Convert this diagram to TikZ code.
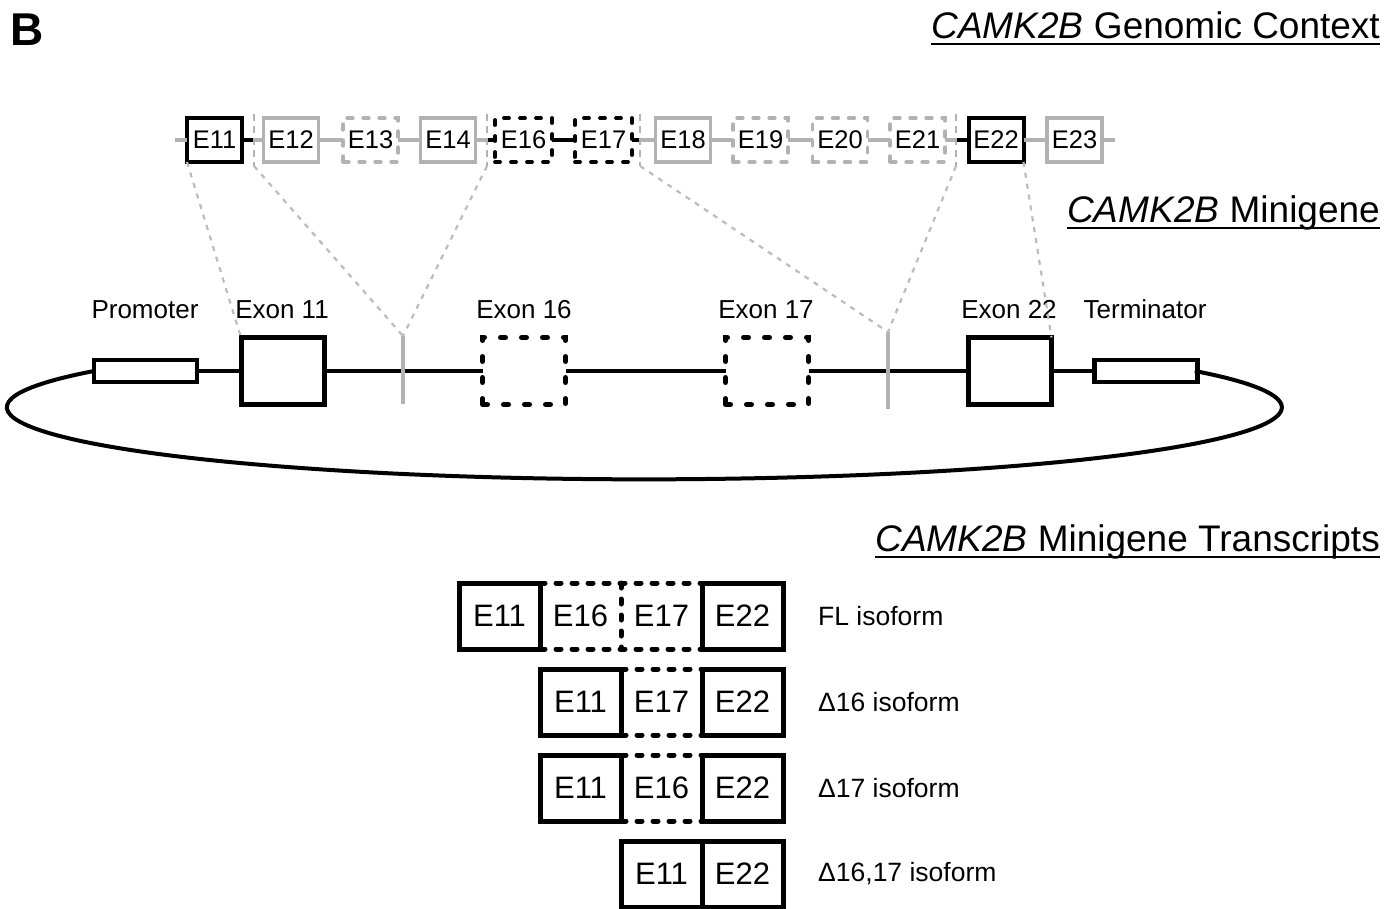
\documentclass[tikz,border=0pt]{standalone}
\usepackage{fontspec}
\setmainfont{Liberation Sans}
\usetikzlibrary{positioning}
\definecolor{exgray}{RGB}{178,178,178}
\definecolor{dotgray}{RGB}{188,188,188}
\tikzset{
  ex/.style={draw, fill=white, inner sep=0pt, outer sep=0pt, minimum width=55pt, minimum height=44pt, line width=3.3pt, font=\fontsize{25.5}{30}\selectfont},
  kbox/.style={ex, line width=4pt},
  gbox/.style={ex, draw=exgray},
  gdash/.style={gbox, dash pattern=on 6pt off 10pt, line cap=round},
  kdash/.style={ex, line width=3.8pt, minimum width=57pt, dash pattern=on 5pt off 11pt, line cap=round},
  gline/.style={exgray, line width=3.3pt},
  kline/.style={black, line width=3.8pt},
  cut/.style={exgray, line width=2.8pt, dash pattern=on 7pt off 5pt},
  proj/.style={dotgray, line width=2.2pt, dash pattern=on 5pt off 6pt},
  mbox/.style={draw, fill=white, inner sep=0pt, outer sep=0pt, minimum width=83pt, minimum height=67pt, line width=5pt},
  mdash/.style={mbox, dash pattern=on 5pt off 16pt, line cap=round},
  pbox/.style={draw, fill=white, inner sep=0pt, outer sep=0pt, minimum width=103pt, minimum height=22pt, line width=4.5pt},
  bb/.style={black, line width=3.5pt},
  gmark/.style={exgray, line width=3.3pt},
  lab/.style={anchor=base, inner sep=0pt, font=\fontsize{26}{31}\selectfont},
  ttl/.style={anchor=base east, inner sep=0pt, font=\fontsize{37}{44}\selectfont},
  uline/.style={black, line width=2.2pt},
  tbox/.style={draw, inner sep=0pt, outer sep=0pt, minimum width=81pt, minimum height=66pt, line width=5pt, font=\fontsize{31}{36}\selectfont},
  tmid/.style={tbox, draw=none},
  tdash/.style={black, line width=5pt, dash pattern=on 5pt off 11pt, line cap=round},
  iso/.style={right=35pt of #1, anchor=west, inner sep=0pt, font=\fontsize{26.5}{31}\selectfont}
}
\begin{document}
\begin{tikzpicture}[x=1pt, y=-1pt]
\useasboundingbox[fill=white] (0,0) rectangle (1396,908);
\node[anchor=base west, inner sep=0pt, font=\fontsize{46}{52}\selectfont\bfseries] (panel) at (10,45) {B};
\node[ttl] (tg) at (1380,38) {\textit{CAMK2B} Genomic Context};
\node[ttl] (tm) at (1380,222) {\textit{CAMK2B} Minigene};
\node[ttl] (tt) at (1380,551) {\textit{CAMK2B} Minigene Transcripts};
\foreach \t in {tg,tm,tt} \draw[uline] ([yshift=-6pt]\t.base west) -- ([yshift=-6pt]\t.base east);

\coordinate (lft) at (175,140); \coordinate (rgt) at (1115,140);
\coordinate (c1) at (254,140); \coordinate (c2) at (487,140);
\coordinate (c3) at (640,140); \coordinate (c4) at (956,140);
\foreach \n/\x/\s in {11/214.5/kbox,12/291/gbox,13/370.5/gdash,14/448/gbox,16/523.5/kdash,17/603.5/kdash,18/683/gbox,19/760.5/gdash,20/840/gdash,21/917.5/gdash,22/996/kbox,23/1074.5/gbox}
  \node[\s] (e\n) at (\x,140) {E\n};
\foreach \a/\b in {lft/e11,c1/e12,e12/e13,e13/e14,e14/c2,c3/e18,e18/e19,e19/e20,e20/e21,e21/c4,e22/e23,e23/rgt}
  \draw[gline] (\a) -- (\b);
\foreach \a/\b in {e11/c1,c2/e16,e16/e17,e17/c3,c4/e22}
  \draw[kline] (\a) -- (\b);
\foreach \c in {c1,c2,c3,c4} \draw[cut] ([yshift=26pt]\c) -- ([yshift=-26pt]\c);

\node[pbox] (prom) at (145.5,371) {};
\node[mbox] (ex11) at (282.5,371) {};
\node[mdash] (ex16) at (524,371) {};
\node[mdash] (ex17) at (767,371) {};
\node[mbox] (ex22) at (1010,371) {};
\node[pbox] (term) at (1146,371) {};
\coordinate (g1t) at (403,336); \coordinate (g1b) at (403,404);
\coordinate (g2t) at (888,332); \coordinate (g2b) at (888,409);
\draw[bb] (prom) -- (ex11) -- (ex16) -- (ex17) -- (ex22) -- (term);
\draw[bb, line width=4pt] (prom.west) arc[start angle=149.7, end angle=390.3, x radius=637.5pt, y radius=72pt];
\draw[gmark] (g1t) -- (g1b); \draw[gmark] (g2t) -- (g2b);
\node[lab] (lprom) at (145,318) {Promoter};
\node[lab] (l11) at (282,318) {Exon 11};
\node[lab] (l16) at (524,318) {Exon 16};
\node[lab] (l17) at (766,318) {Exon 17};
\node[lab] (l22) at (1009,318) {Exon 22};
\node[lab] (lterm) at (1145,318) {Terminator};

\draw[proj] (e11.south west) -- (ex11.north west);
\draw[proj] ([yshift=-26pt]c1) -- (g1t); \draw[proj] ([yshift=-26pt]c2) -- (g1t);
\draw[proj] ([yshift=-26pt]c3) -- (g2t); \draw[proj] ([yshift=-26pt]c4) -- (g2t);
\draw[proj] (e22.south east) -- (ex22.north east);

\node[tmid] (r1c) at (661.5,616) {E17};
\node[tmid, left=0pt of r1c] (r1b) {E16};
\draw[tdash] (r1b.north west) -- (r1c.north east); \draw[tdash] (r1b.south west) -- (r1c.south east);
\draw[tdash] (r1b.north east) -- (r1b.south east);
\node[tbox, right=0pt of r1c] (r1d) {E22};
\node[tbox, left=0pt of r1b] (r1a) {E11};
\node[iso=r1d] (i1) {FL isoform};

\node[tmid] (r2b) at (661.5,702) {E17};
\draw[tdash] (r2b.north west) -- (r2b.north east); \draw[tdash] (r2b.south west) -- (r2b.south east);
\node[tbox, right=0pt of r2b] (r2c) {E22};
\node[tbox, left=0pt of r2b] (r2a) {E11};
\node[iso=r2c] (i2) {Δ16 isoform};

\node[tmid] (r3b) at (661.5,788) {E16};
\draw[tdash] (r3b.north west) -- (r3b.north east); \draw[tdash] (r3b.south west) -- (r3b.south east);
\node[tbox, right=0pt of r3b] (r3c) {E22};
\node[tbox, left=0pt of r3b] (r3a) {E11};
\node[iso=r3c] (i3) {Δ17 isoform};

\node[tbox] (r4b) at (742.5,874) {E22};
\node[tbox, left=0pt of r4b] (r4a) {E11};
\node[iso=r4b] (i4) {Δ16,17 isoform};
\end{tikzpicture}
\end{document}
